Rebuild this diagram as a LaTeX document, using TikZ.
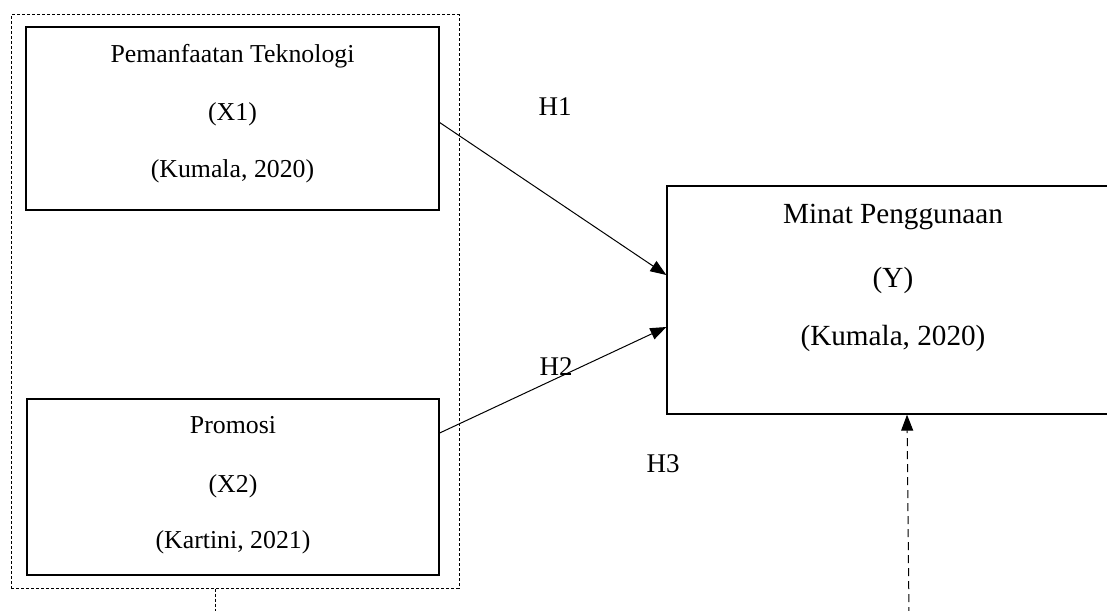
\documentclass[tikz,border=0pt]{standalone}
\usepackage{fontspec}
\setmainfont{Liberation Serif}
\usepackage{tikz}
\usetikzlibrary{arrows.meta}
\usetikzlibrary{calc}
\tikzset{
    box/.style={draw, line width=0.65pt, rectangle, inner sep=0pt},
    grpbox/.style={draw, line width=0.5pt, dash pattern=on 1.5pt off 1pt, rectangle, inner sep=0pt},
    hyp/.style={line width=0.5pt, -{Triangle[length=8pt,width=6pt]}},
    txt/.style={anchor=base, inner sep=0pt}
}
\begin{document}
\begin{tikzpicture}[x=0.5pt,y=-0.5pt]
\useasboundingbox (0,0) rectangle (1107,610);
% boxes
\node[grpbox, minimum width=224pt, minimum height=286.5pt] (grp) at (235,301.5) {};
\node[box, minimum width=206.5pt, minimum height=91.5pt] (x1) at (232.5,118.5) {};
\node[box, minimum width=206pt, minimum height=88pt] (x2) at (233,487) {};
\node[box, minimum width=226pt, minimum height=114pt] (y) at (893,300) {};
% texts
\foreach \x/\y/\n/\t in {232.5/63/x1a/{Pemanfaatan Teknologi}, 232.5/120/x1b/{(X1)}, 232.5/177/x1c/{(Kumala, 2020)},
    233/433/x2a/{Promosi}, 233/492/x2b/{(X2)}, 233/548/x2c/{(Kartini, 2021)}}{
    \node[txt, font=\fontsize{12.9}{15}\selectfont] (\n) at (\x,\y) {\t};
}
\foreach \x/\y/\n/\t in {893/223/ya/{Minat Penggunaan}, 893/287/yb/{(Y)}, 893/345/yc/{(Kumala, 2020)}}{
    \node[txt, font=\fontsize{14.6}{17}\selectfont] (\n) at (\x,\y) {\t};
}
\foreach \x/\y/\n/\t in {555/115/h1/{H1}, 556/375/h2/{H2}, 663/472/h3/{H3}}{
    \node[txt, font=\fontsize{13.5}{16}\selectfont] (\n) at (\x,\y) {\t};
}
% connectors
\coordinate (grpfoot) at (215,615);
\coordinate (h3foot) at (909,615);
\draw[line width=0.5pt, dash pattern=on 1.5pt off 1pt] (grp.south -| grpfoot) -- (grpfoot);
\draw[hyp] ([yshift=-2pt]x1.east) -- ([yshift=12.5pt]y.west);
\draw[hyp] ([yshift=27pt]x2.east) -- ([yshift=-13.5pt]y.west);
\draw[hyp, dash pattern=on 4pt off 2.5pt] (h3foot) -- ([xshift=7pt]y.south);
\end{tikzpicture}
\end{document}
